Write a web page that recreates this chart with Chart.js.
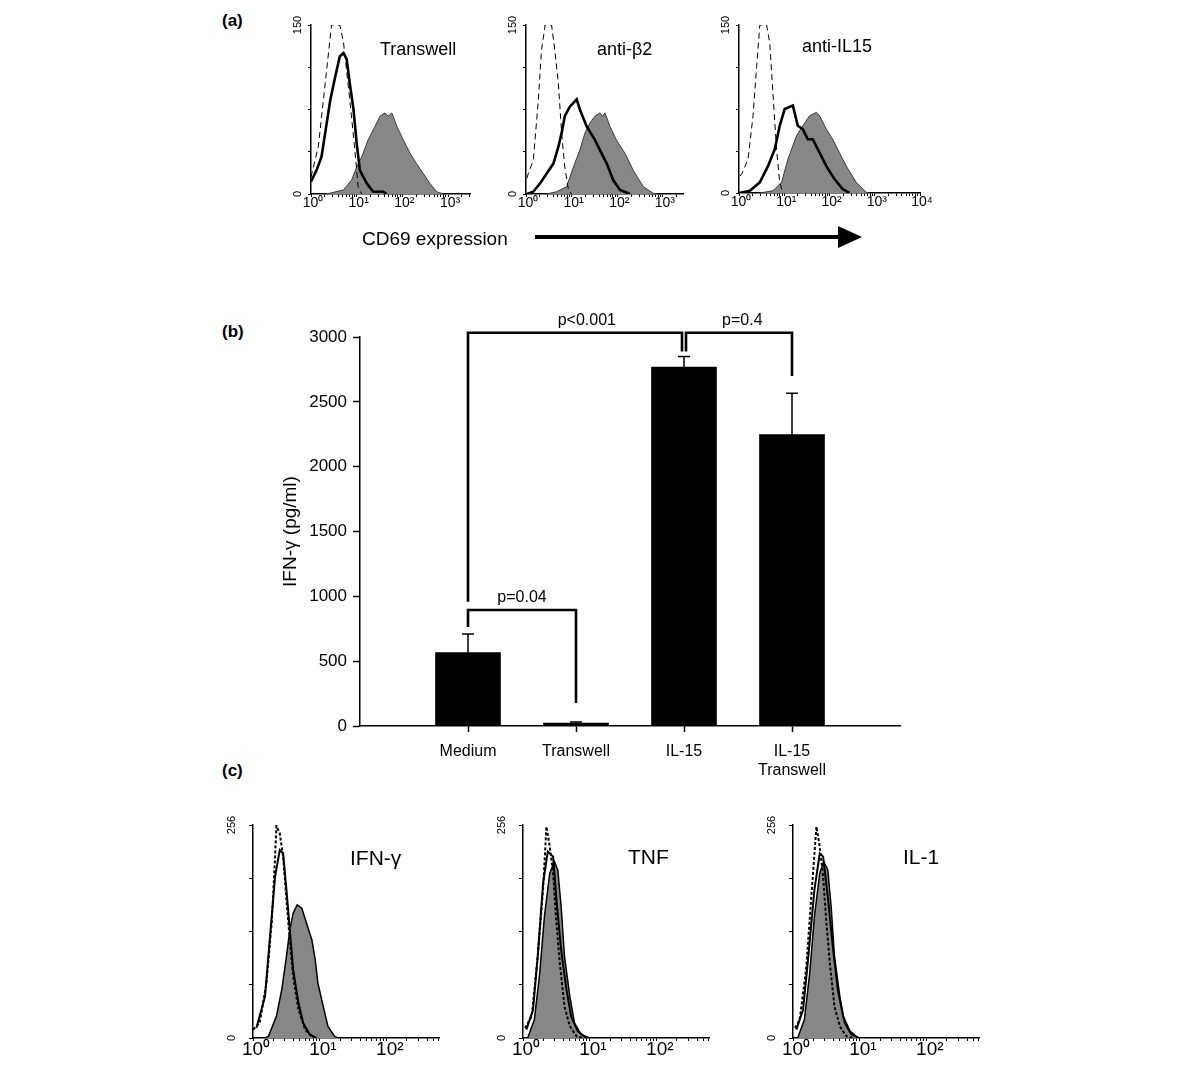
<!DOCTYPE html>
<html><head><meta charset="utf-8">
<script src="https://cdn.jsdelivr.net/npm/chart.js@4.4.1/dist/chart.umd.min.js"></script>
<style>
html,body{margin:0;padding:0;background:#fff;}
body{width:1200px;height:1070px;position:relative;overflow:hidden;font-family:'Liberation Sans',Arial,Helvetica,sans-serif;}
canvas{position:absolute;}
.t{position:absolute;line-height:1;white-space:nowrap;color:#000;}
</style></head><body>
<svg style="position:absolute;left:0;top:0" width="1200" height="1070">
  <line x1="535" y1="237" x2="842" y2="237" stroke="#000" stroke-width="4"/>
  <polygon points="838,226 862,237 838,248" fill="#000"/>
</svg>
<script>
// ---------- Panel (a): CD69 histograms (x in decades of fluorescence, y in counts) ----------
const a1DashX = [0, 0.16, 0.31, 0.45, 0.63, 0.71, 0.85, 0.96, 1.03, 1.11];
const a1DashY = [15, 42, 98, 150, 150, 135, 83, 39, 7, 0];
const a1BoldX = [0, 0.12, 0.23, 0.31, 0.42, 0.53, 0.63, 0.71, 0.78, 0.85, 0.93, 1.0, 1.07, 1.22, 1.36, 1.58, 1.66];
const a1BoldY = [11, 21, 33, 54, 83, 104, 122, 125, 120, 98, 75, 45, 21, 9.5, 2, 2, 0];
const a1GreyX = [0.34, 0.71, 0.89, 1.0, 1.11, 1.25, 1.4, 1.51, 1.62, 1.69, 1.77, 1.88, 2.02, 2.17, 2.31, 2.46, 2.6, 2.75, 2.9];
const a1GreyY = [0, 3.6, 12.4, 24, 33, 48, 60, 69, 72, 69, 72, 60, 48, 36, 27, 18, 9.5, 2, 0];

const a2DashX = [0.02, 0.05, 0.16, 0.27, 0.34, 0.42, 0.56, 0.63, 0.71, 0.78, 0.85, 0.93, 1.0];
const a2DashY = [14, 18, 30, 83, 128, 150, 150, 128, 98, 54, 24, 3.5, 0];
const a2BoldX = [0.02, 0.16, 0.31, 0.45, 0.6, 0.71, 0.78, 0.85, 0.96, 1.11, 1.18, 1.33, 1.51, 1.62, 1.77, 1.91, 2.06, 2.24, 2.28];
const a2BoldY = [0, 2, 9.5, 18, 27, 42, 54, 69, 77.5, 84, 75, 60, 48, 39, 27, 12.4, 3.5, 0.6, 0];
const a2GreyX = [0.45, 0.67, 0.89, 1.04, 1.18, 1.29, 1.4, 1.51, 1.62, 1.68, 1.73, 1.84, 1.98, 2.17, 2.35, 2.57, 2.79, 2.86];
const a2GreyY = [0, 2, 6.5, 24, 39, 54, 63, 69, 72, 69, 72, 60, 48, 36, 21, 6.5, 0.6, 0];

const a3DashX = [0.02, 0.06, 0.2, 0.31, 0.39, 0.46, 0.61, 0.68, 0.75, 0.83, 0.9, 0.97];
const a3DashY = [15, 17, 30, 69, 113, 150, 150, 134, 89, 39, 9.5, 0];
const a3BoldX = [0, 0.24, 0.46, 0.64, 0.79, 0.9, 1.01, 1.19, 1.3, 1.41, 1.52, 1.63, 1.78, 1.93, 2.11, 2.29, 2.44];
const a3BoldY = [0, 2, 9.5, 24, 39, 60, 75, 78, 60, 57, 48, 48, 36, 24, 12.4, 3.5, 0];
const a3GreyX = [0.46, 0.75, 0.94, 1.08, 1.27, 1.41, 1.56, 1.71, 1.78, 1.93, 2.07, 2.22, 2.37, 2.59, 2.81, 2.88];
const a3GreyY = [0, 2, 9.5, 30, 51, 60, 69, 72, 69, 57, 48, 36, 24, 9.5, 0.6, 0];

const aYTicks = [0, 37.5, 75, 112.5, 150];

// ---------- Panel (b): IFN-gamma ELISA ----------
const bCategories = ['Medium', 'Transwell', 'IL-15', ['IL-15', 'Transwell']];
const bMeans = [566, 22, 2768, 2248];
const bErrors = [144, 8, 82, 318];
const bTicks = [0, 500, 1000, 1500, 2000, 2500, 3000];
const pLabels = ['p<0.001', 'p=0.4', 'p=0.04'];
const pFrom = [0, 2, 0];          // category index of left leg
const pTo = [2, 3, 1];            // category index of right leg
const pFromY = [958, 2888, 764];  // value where left leg ends
const pToY = [2888, 2699, 177];   // value where right leg ends
const pTopY = [3033, 3033, 895];  // value of the horizontal bar
const pLabelAt = [1.1, 2.54, 0.5];// category position of the p-value text

// ---------- Panel (c): intracellular cytokine histograms ----------
const c1DotX = [0, 0.1, 0.2, 0.28, 0.33, 0.35, 0.4, 0.45, 0.5, 0.55, 0.6, 0.68, 0.78, 0.9];
const c1DotY = [10, 18, 66, 138, 218, 255, 246, 218, 166, 118, 74, 34, 10, 0];
const c1LineX = [0.05, 0.18, 0.25, 0.33, 0.4, 0.45, 0.5, 0.55, 0.6, 0.68, 0.75, 0.85, 0.95];
const c1LineY = [12, 50, 118, 194, 226, 222, 178, 130, 82, 42, 18, 4, 0];
const c1GreyX = [0.18, 0.23, 0.35, 0.43, 0.5, 0.55, 0.6, 0.66, 0.73, 0.8, 0.88, 0.93, 0.97, 1.05, 1.12, 1.22, 1.27];
const c1GreyY = [0, 2, 26, 58, 98, 130, 150, 160, 156, 138, 118, 94, 66, 38, 14, 2, 0];

const c2DotX = [0.03, 0.13, 0.22, 0.3, 0.35, 0.4, 0.45, 0.5, 0.55, 0.62, 0.7, 0.8, 0.9];
const c2DotY = [12, 26, 98, 178, 254, 230, 198, 138, 90, 38, 14, 2, 0];
const c2LineX = [0.05, 0.15, 0.22, 0.3, 0.37, 0.45, 0.5, 0.57, 0.65, 0.72, 0.82, 0.95];
const c2LineY = [10, 34, 98, 186, 224, 218, 166, 106, 58, 26, 8, 0];
const c2GreyX = [0.07, 0.17, 0.25, 0.32, 0.4, 0.47, 0.52, 0.57, 0.62, 0.7, 0.77, 0.87, 1.0];
const c2GreyY = [0, 22, 78, 146, 198, 212, 202, 158, 98, 50, 18, 4, 0];

const c3DotX = [0.03, 0.1, 0.2, 0.27, 0.35, 0.4, 0.45, 0.5, 0.55, 0.62, 0.7, 0.8, 0.9];
const c3DotY = [12, 22, 86, 166, 254, 230, 194, 138, 90, 38, 14, 2, 0];
const c3LineX = [0.05, 0.15, 0.22, 0.32, 0.4, 0.45, 0.52, 0.6, 0.67, 0.75, 0.85, 0.97];
const c3LineY = [10, 34, 90, 178, 222, 218, 170, 106, 58, 26, 8, 0];
const c3GreyX = [0.07, 0.17, 0.25, 0.32, 0.4, 0.46, 0.52, 0.57, 0.62, 0.7, 0.77, 0.87, 1.0];
const c3GreyY = [0, 22, 78, 146, 198, 212, 202, 158, 98, 50, 18, 4, 0];

const cYTicks = [0, 64, 128, 192, 256];

// ---------- rendering ----------
const SUP = ['\u2070', '\u00B9', '\u00B2', '\u00B3', '\u2074'];
const FONT = "'Liberation Sans', Arial, Helvetica, sans-serif";
Chart.defaults.font.family = FONT;
Chart.defaults.color = '#000';

function makeCanvas(left, top, w, h) {
  const c = document.createElement('canvas');
  c.width = w; c.height = h;
  c.style.left = left + 'px'; c.style.top = top + 'px';
  c.style.width = w + 'px'; c.style.height = h + 'px';
  document.body.appendChild(c);
  return c;
}

function text(str, x, baseline, size, opts) {
  opts = opts || {};
  const d = document.createElement('div');
  d.className = 't';
  d.textContent = str;
  d.style.fontSize = size + 'px';
  if (opts.bold) d.style.fontWeight = 'bold';
  d.style.left = x + 'px';
  d.style.top = (baseline - 0.8465 * size) + 'px';
  document.body.appendChild(d);
}

function histogram(box, spec, curves) {
  const padL = 45, padT = 20, padR = 15, padB = 40;
  const w = box.right - box.left + padL + padR;
  const h = box.bottom - box.top + padT + padB;
  const canvas = makeCanvas(box.left - padL, box.top - padT, w, h);
  const datasets = curves.map(c => Object.assign({
    data: c.x.map((x, i) => ({ x: x, y: c.y[i] })),
    pointRadius: 0, tension: 0
  }, c.style));
  new Chart(canvas, {
    type: 'line',
    data: { datasets: datasets },
    options: {
      responsive: false, animation: false, devicePixelRatio: 1,
      layout: { padding: { left: 0, top: padT, right: padR, bottom: 0 } },
      plugins: { legend: { display: false }, tooltip: { enabled: false } },
      scales: {
        x: {
          type: 'linear', min: 0, max: spec.xMax,
          afterFit: s => { s.height = padB; },
          afterBuildTicks: s => {
            const t = [];
            for (let d = 0; d <= Math.floor(spec.xMax); d++) {
              t.push({ value: d });
              for (let k = 2; k <= 9; k++) {
                const v = d + Math.log10(k);
                if (v <= spec.xMax) t.push({ value: v });
              }
            }
            s.ticks = t;
          },
          ticks: {
            autoSkip: false, maxRotation: 0, minRotation: 0, padding: 0,
            labelOffset: spec.xOffset, color: '#000',
            font: { size: spec.xFont, lineHeight: 0.9 },
            callback: v => Number.isInteger(v) ? '10' + SUP[v] : ''
          },
          grid: { drawOnChartArea: false, drawTicks: true, tickLength: 3, tickColor: '#000', tickWidth: 1 },
          border: { display: true, color: '#000', width: 1.5 }
        },
        y: {
          min: 0, max: spec.yMax,
          afterFit: s => { s.width = padL; },
          afterBuildTicks: s => { s.ticks = spec.yTicks.map(v => ({ value: v })); },
          ticks: {
            autoSkip: false, minRotation: 90, maxRotation: 90, crossAlign: 'center',
            padding: spec.yPad, color: '#000', font: { size: spec.yFont },
            callback: v => (v === 0 || v === spec.yMax) ? String(v) : ''
          },
          grid: { drawOnChartArea: false, tickLength: spec.yTl, tickColor: '#000', tickWidth: 1 },
          border: { display: true, color: '#000', width: 1.5 }
        }
      }
    }
  });
}

const styleA = {
  dash: { borderColor: '#000', borderWidth: 1, borderDash: [6, 4], fill: false },
  bold: { borderColor: '#000', borderWidth: 2.6, fill: false },
  grey: { borderColor: '#3a3a3a', borderWidth: 1, backgroundColor: '#878787', fill: 'origin' }
};
const styleC = {
  dot: { borderColor: '#000', borderWidth: 2, borderDash: [3, 2], fill: false },
  line: { borderColor: '#000', borderWidth: 2, fill: false },
  grey: { borderColor: '#000', borderWidth: 1.5, backgroundColor: '#878787', fill: 'origin' }
};

const specA = (xMax) => ({ xMax: xMax, yMax: 150, yTicks: aYTicks, xFont: 14, yFont: 11, yTl: 3, yPad: 1, xOffset: 2 });
histogram({ left: 311, right: 470, top: 25, bottom: 194 }, specA(3.48), [
  { x: a1DashX, y: a1DashY, style: styleA.dash },
  { x: a1BoldX, y: a1BoldY, style: styleA.bold },
  { x: a1GreyX, y: a1GreyY, style: styleA.grey }
]);
histogram({ left: 526, right: 683, top: 25, bottom: 194 }, specA(3.44), [
  { x: a2DashX, y: a2DashY, style: styleA.dash },
  { x: a2BoldX, y: a2BoldY, style: styleA.bold },
  { x: a2GreyX, y: a2GreyY, style: styleA.grey }
]);
histogram({ left: 739, right: 920, top: 25, bottom: 193 }, specA(4), [
  { x: a3DashX, y: a3DashY, style: styleA.dash },
  { x: a3BoldX, y: a3BoldY, style: styleA.bold },
  { x: a3GreyX, y: a3GreyY, style: styleA.grey }
]);

const specC = { xMax: 2.78, yMax: 256, yTicks: cYTicks, xFont: 19, yFont: 11, yTl: 4, yPad: 8, xOffset: 3 };
histogram({ left: 253, right: 439, top: 825, bottom: 1038 }, specC, [
  { x: c1DotX, y: c1DotY, style: styleC.dot },
  { x: c1LineX, y: c1LineY, style: styleC.line },
  { x: c1GreyX, y: c1GreyY, style: styleC.grey }
]);
histogram({ left: 523, right: 709, top: 825, bottom: 1038 }, specC, [
  { x: c2DotX, y: c2DotY, style: styleC.dot },
  { x: c2LineX, y: c2LineY, style: styleC.line },
  { x: c2GreyX, y: c2GreyY, style: styleC.grey }
]);
histogram({ left: 793, right: 979, top: 825, bottom: 1038 }, specC, [
  { x: c3DotX, y: c3DotY, style: styleC.dot },
  { x: c3LineX, y: c3LineY, style: styleC.line },
  { x: c3GreyX, y: c3GreyY, style: styleC.grey }
]);

// Panel (b) bar chart
const annotPlugin = {
  id: 'annot',
  afterDatasetsDraw(chart) {
    const ctx = chart.ctx, x = chart.scales.x, y = chart.scales.y;
    ctx.save();
    ctx.strokeStyle = '#000';
    ctx.lineWidth = 1.5;
    bMeans.forEach((m, i) => {
      const px = x.getPixelForValue(i + 1);
      const y0 = y.getPixelForValue(m), y1 = y.getPixelForValue(m + bErrors[i]);
      ctx.beginPath();
      ctx.moveTo(px, y0); ctx.lineTo(px, y1);
      ctx.moveTo(px - 6, y1); ctx.lineTo(px + 6, y1);
      ctx.stroke();
    });
    ctx.lineWidth = 2.6; ctx.lineJoin = 'miter'; ctx.lineCap = 'butt';
    ctx.font = '16px ' + FONT; ctx.fillStyle = '#000';
    ctx.textAlign = 'center'; ctx.textBaseline = 'alphabetic';
    pLabels.forEach((lab, i) => {
      const shares = c => pLabels.some((_, j) => j !== i && pTopY[j] === pTopY[i] && (pFrom[j] === c || pTo[j] === c));
      const xa = x.getPixelForValue(pFrom[i] + 1) + (shares(pFrom[i]) ? 2 : 0);
      const xb = x.getPixelForValue(pTo[i] + 1) - (shares(pTo[i]) ? 2 : 0);
      const yt = y.getPixelForValue(pTopY[i]);
      ctx.beginPath();
      ctx.moveTo(xa, y.getPixelForValue(pFromY[i]));
      ctx.lineTo(xa, yt); ctx.lineTo(xb, yt);
      ctx.lineTo(xb, y.getPixelForValue(pToY[i]));
      ctx.stroke();
      ctx.fillText(lab, x.getPixelForValue(pLabelAt[i] + 1), yt - 8);
    });
    ctx.restore();
  }
};

const bc = makeCanvas(270, 290, 640, 500);
new Chart(bc, {
  type: 'bar',
  data: {
    labels: [''].concat(bCategories, ['']),
    datasets: [{ data: [null].concat(bMeans, [null]), backgroundColor: '#000', borderWidth: 0, barThickness: 65 }]
  },
  options: {
    responsive: false, animation: false, devicePixelRatio: 1,
    layout: { padding: { left: 0, top: 47, right: 10, bottom: 0 } },
    plugins: { legend: { display: false }, tooltip: { enabled: false } },
    scales: {
      x: {
        type: 'category', offset: false,
        afterFit: s => { s.height = 64; },
        grid: {
          offset: false, drawOnChartArea: false, tickLength: 6, tickWidth: 1.5,
          tickColor: c => (c.index === 0 || c.index === bCategories.length + 1) ? 'rgba(0,0,0,0)' : '#000'
        },
        border: { display: true, color: '#000', width: 1.5 },
        ticks: { autoSkip: false, maxRotation: 0, minRotation: 0, padding: 10, font: { size: 16 }, color: '#000' }
      },
      y: {
        min: 0, max: 3000,
        afterFit: s => { s.width = 90; },
        afterBuildTicks: s => { s.ticks = bTicks.map(v => ({ value: v })); },
        grid: { drawOnChartArea: false, tickLength: 7, tickWidth: 1.5, tickColor: '#000' },
        border: { display: true, color: '#000', width: 1.5 },
        ticks: { padding: 6, font: { size: 17 }, color: '#000', callback: v => String(v) },
        title: { display: true, text: 'IFN-\u03B3 (pg/ml)', font: { size: 19 }, color: '#000', padding: { top: 9, bottom: 0 } }
      }
    }
  },
  plugins: [annotPlugin]
});

// text labels
text('(a)', 222, 26, 17, { bold: true });
text('(b)', 222, 337, 17, { bold: true });
text('(c)', 222, 776, 17, { bold: true });
text('Transwell', 380, 55, 18);
text('anti-\u03B22', 597, 55, 18);
text('anti-IL15', 802, 52, 18);
text('CD69 expression', 362, 245, 19);
text('IFN-\u03B3', 350, 865, 21);
text('TNF', 628, 864, 21);
text('IL-1', 903, 864, 21);
</script>
</body></html>
